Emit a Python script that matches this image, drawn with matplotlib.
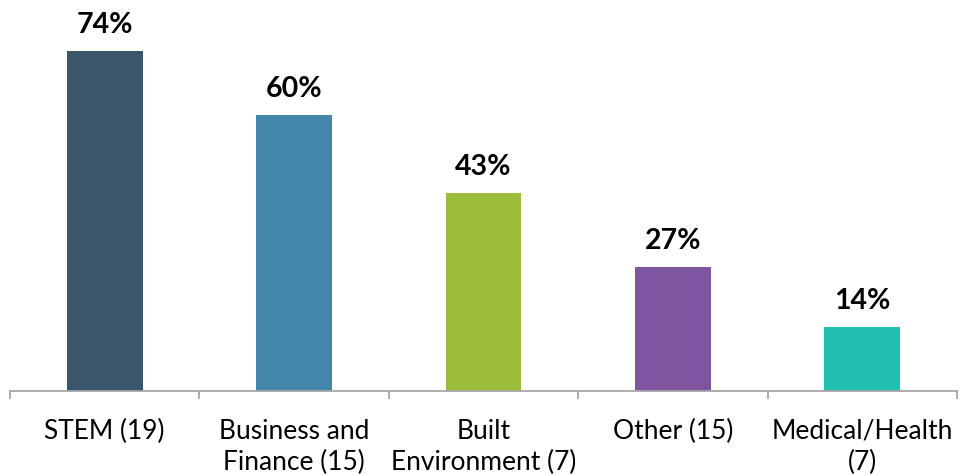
import matplotlib
matplotlib.use("Agg")
import matplotlib.pyplot as plt
import numpy as np

categories = ["STEM (19)", "Business and\nFinance (15)", "Built\nEnvironment (7)", "Other (15)", "Medical/Health\n(7)"]
values = [74, 60, 43, 27, 14]
colors = ["#3B556B", "#4388AA", "#9BBB3B", "#7E55A0", "#24BFB3"]

plt.rcParams['font.family'] = ['Lato', 'DejaVu Sans']

fig = plt.figure(figsize=(9.6, 4.75), dpi=100)
ax = fig.add_axes([10/960, (475-391)/475, 947/960, 391/475])
x = np.arange(len(categories))
ax.bar(x, values, width=0.4, color=colors)
for xi, v in zip(x, values):
    ax.annotate(f"{v}%", (xi, v), xytext=(0, 13), textcoords="offset points",
                ha="center", va="baseline", fontsize=20.5, fontweight="bold", color="black")

ax.set_xlim(-0.5, len(categories) - 0.5)
ax.set_ylim(0, 85.1)
for s in ["top", "right", "left"]:
    ax.spines[s].set_visible(False)
ax.spines["bottom"].set_color("#A6A6A6")
ax.spines["bottom"].set_linewidth(1.3)
ax.set_yticks([])
ax.set_xticks(np.arange(-0.5, len(categories)), minor=False)
ax.set_xticklabels([])
ax.set_xticks(x, minor=True)
ax.set_xticklabels(categories, minor=True, fontsize=19, linespacing=1.3)
ax.tick_params(axis="x", which="major", length=6, width=1.3, color="#A6A6A6", direction="out")
ax.tick_params(axis="x", which="minor", length=0, pad=20)
fig.savefig("out.png", dpi=100)
